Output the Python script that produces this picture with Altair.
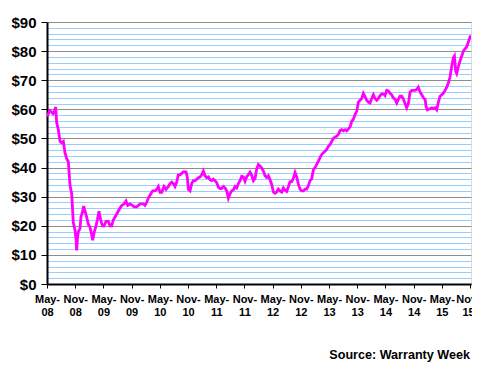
import json
import altair as alt
import pandas as pd

# months since May 2008
months = [0.0, 0.3, 0.64, 1.0, 1.3, 1.6, 1.84, 2.06, 2.41, 2.77, 3.12, 3.48, 3.83, 4.18, 4.54, 4.89,
          5.25, 5.46, 5.6, 5.96, 6.2, 6.31, 6.5, 6.67, 7.02, 7.23, 7.59, 7.8, 8.09, 8.44, 8.79, 9.15,
          9.5, 9.72, 10.07, 10.43, 10.71, 11.06, 11.42, 11.77, 12.13, 12.55, 13.05, 13.4, 13.76, 14.11,
          14.47, 14.82, 15.32, 15.89, 16.38, 16.81, 17.16, 17.66, 18.01, 18.58, 19.08, 19.79, 20.5,
          20.85, 21.21, 21.56, 21.91, 22.48, 22.98, 23.33, 23.69, 24.04, 24.4, 24.89, 25.32, 25.82,
          26.17, 26.52, 26.88, 27.23, 27.59, 27.94, 28.3, 28.65, 29.01, 29.57, 29.86, 30.07, 30.43,
          30.78, 31.13, 31.49, 31.84, 32.2, 32.55, 32.91, 33.26, 33.62, 33.97, 34.33, 34.68, 35.04,
          35.39, 35.74, 36.1, 36.45, 36.81, 37.16, 37.52, 37.87, 38.23, 38.58, 38.94, 39.29, 39.65,
          40.0, 40.35, 40.71, 41.06, 41.42, 41.77, 42.13, 42.48, 42.84, 43.19, 43.55, 43.9, 44.26,
          44.61, 44.96, 45.32, 45.67, 46.03, 46.38, 46.74, 47.09, 47.45, 47.8, 48.16, 48.51, 48.87,
          49.22, 49.57, 49.93, 50.28, 50.64, 50.99, 51.35, 51.7, 52.06, 52.41, 52.77, 53.12, 53.48,
          53.83, 54.18, 54.54, 54.89, 55.25, 55.6, 55.96, 56.31, 56.67, 57.02, 57.38, 57.73, 58.09,
          58.44, 58.79, 59.15, 59.5, 59.86, 60.21, 60.92, 61.28, 61.63, 61.99, 62.34, 62.7, 63.05,
          63.4, 63.76, 64.11, 64.47, 64.82, 65.18, 65.53, 65.89, 66.24, 66.6, 66.95, 67.3, 67.66,
          68.01, 68.37, 68.72, 69.08, 69.43, 69.79, 70.14, 70.5, 70.85, 71.21, 71.56, 71.91, 72.27,
          72.62, 72.98, 73.33, 73.69, 74.04, 74.4, 74.75, 75.11, 75.46, 75.82, 76.17, 76.52, 76.88,
          77.23, 77.59, 77.94, 78.3, 78.65, 79.0, 79.36, 79.72, 80.07, 80.43, 80.64, 80.92, 81.49,
          81.84, 82.2, 82.55, 82.91, 83.26, 83.62, 83.97, 84.33, 84.68, 85.04, 85.39, 85.74, 86.1,
          86.45, 86.67, 86.95, 87.16, 87.52, 87.87, 88.23, 88.58, 88.94, 89.29, 89.65, 90.0, 90.2]

prices = [57.5, 58.5, 59.5, 59.0, 58.5, 59.5, 60.8, 55.5, 53.0, 49.0, 48.5, 49.0, 45.0, 43.0, 42.0, 34.0,
          31.0, 25.0, 21.0, 18.5, 15.0, 11.5, 16.0, 18.0, 19.0, 23.0, 25.0, 26.8, 25.0, 23.0, 20.5, 19.5,
          17.0, 15.0, 18.0, 20.0, 22.0, 25.0, 22.0, 20.0, 20.0, 21.5, 21.5, 20.0, 20.0, 22.0,
          23.0, 24.0, 25.5, 27.0, 27.5, 28.5, 27.0, 27.5, 27.2, 26.5, 26.5, 27.5, 27.5,
          27.0, 28.0, 29.5, 30.5, 32.0, 32.0, 32.5, 33.5, 31.5, 31.5, 33.5, 32.5, 33.5,
          34.5, 35.0, 34.5, 33.5, 35.0, 37.5, 37.5, 38.0, 38.5, 38.5, 36.5, 32.5, 32.0,
          34.5, 35.5, 35.5, 36.0, 36.5, 36.8, 37.5, 38.8, 37.2, 36.5, 36.8, 35.8, 35.5,
          36.0, 35.5, 34.8, 33.3, 32.8, 32.8, 33.5, 33.0, 32.0, 29.5, 31.0, 32.0, 32.3,
          33.5, 33.0, 34.5, 35.5, 37.0, 36.8, 35.3, 36.8, 37.6, 38.4, 37.3, 35.5, 36.3,
          39.5, 41.0, 40.5, 39.8, 38.8, 37.2, 36.6, 37.2, 35.8, 34.2, 31.6, 31.2, 31.6,
          32.6, 32.0, 31.6, 33.0, 32.2, 31.8, 33.4, 35.2, 35.2, 36.3, 38.3, 36.8, 34.3,
          32.6, 32.0, 32.0, 32.6, 32.6, 33.8, 35.5, 36.1, 39.2, 40.0, 41.1, 42.2, 43.4,
          44.5, 45.1, 45.6, 46.2, 47.3, 47.9, 50.0, 50.5, 50.7, 51.4, 52.7, 53.0, 52.6,
          53.0, 52.6, 53.3, 53.9, 55.9, 56.6, 58.2, 59.3, 62.5, 63.1, 63.7, 65.5, 64.4,
          63.1, 62.5, 62.2, 63.7, 65.0, 63.7, 63.1, 63.7, 64.7, 65.3, 65.3, 64.7, 66.5,
          66.3, 65.5, 65.0, 63.9, 63.5, 62.2, 63.5, 64.5, 64.5, 63.5, 62.0, 60.5, 62.0,
          65.9, 66.5, 66.5, 66.5, 66.8, 67.6, 66.0, 65.0, 64.0, 63.5, 61.0, 59.8, 60.2,
          60.5, 60.2, 60.5, 59.8, 62.5, 64.5, 65.0, 65.6, 66.5, 67.6, 69.1, 71.1, 74.8,
          77.7, 78.3, 73.1, 72.3, 74.8, 76.6, 78.3, 80.0, 80.8, 81.5, 83.2, 84.9, 85.4]

tick_labels = ["May- 08", "Nov- 08", "May- 09", "Nov- 09", "May- 10", "Nov- 10", "May- 11", "Nov- 11",
               "May- 12", "Nov- 12", "May- 13", "Nov- 13", "May- 14", "Nov- 14", "May- 15", "Nov- 15"]
tick_months = [6 * i for i in range(len(tick_labels))]
y_ticks = list(range(0, 91, 2))
source_text = "Source: Warranty Week"

df = pd.DataFrame({"m": months, "price": prices})

FONT = "Liberation Sans, Arial"
x_label_expr = "split(" + json.dumps(tick_labels) + "[round(datum.value / 6)], ' ')"
last_tick = tick_months[-1]

x_axis = alt.Axis(
    values=tick_months, labelExpr=x_label_expr, grid=False, title=None,
    labelFont=FONT, labelFontSize=11, labelFontWeight="bold", labelColor="black",
    labelLineHeight=13.5, labelPadding=5, labelAngle=0, labelAlign="center",
    labelOffset={"condition": {"test": f"datum.value >= {last_tick}", "value": -2}, "value": 0},
    labelBaseline="top",
    tickSize=4, tickColor="black", domainColor="black", domainWidth=2, labelOverlap=False,
    labelFlush=False,
)

y_axis = alt.Axis(
    values=y_ticks, title=None,
    labelExpr="datum.value % 10 === 0 ? '$' + datum.value : ''",
    labelFont=FONT, labelFontSize=15, labelFontWeight="bold", labelColor="black",
    labelPadding=5, tickSize=6, tickColor="black",
    tickOpacity={"condition": {"test": "datum.value % 10 === 0", "value": 1}, "value": 0},
    gridColor={"condition": {"test": "datum.value % 10 === 0", "value": "#8c8c8c"}, "value": "#99CCFF"},
    gridWidth=1, gridOpacity=1,
    domainColor="black", domainWidth=2, labelOverlap=False,
)

line = alt.Chart(df).mark_line(color="#FF00FF", strokeWidth=2.8, clip=True).encode(
    x=alt.X("m:Q", scale=alt.Scale(domain=[0, 90.2], nice=False, zero=False), axis=x_axis),
    y=alt.Y("price:Q", scale=alt.Scale(domain=[0, 90], nice=False), axis=y_axis),
)

src = alt.Chart(pd.DataFrame({"t": [source_text]})).mark_text(
    font=FONT, fontSize=12.6, fontWeight="bold", color="black", align="right", baseline="alphabetic"
).encode(text="t:N", x=alt.value(423), y=alt.value(337))

chart = alt.layer(line, src).properties(
    width=424, height=262,
    autosize=alt.AutoSizeParams(type="none"),
    padding={"left": 39, "top": 14, "right": 1, "bottom": 78},
).configure_view(stroke="#8c8c8c", strokeWidth=1.5).configure(background="white")

chart.save("out.html", embed_options={"renderer": "svg", "actions": False})
